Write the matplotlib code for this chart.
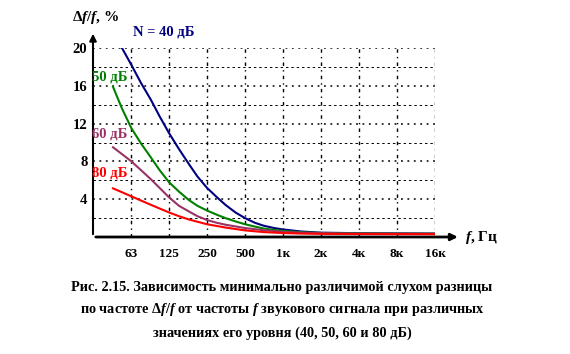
import numpy as np
import matplotlib
matplotlib.use("Agg")
import matplotlib.pyplot as plt

plt.rcParams['font.family'] = ['Liberation Serif', 'DejaVu Serif']
plt.rcParams['font.weight'] = 'bold'
plt.rcParams['mathtext.fontset'] = 'custom'
plt.rcParams['mathtext.rm'] = 'Liberation Serif:bold'
plt.rcParams['mathtext.it'] = 'Liberation Serif:italic:bold'
plt.rcParams['mathtext.bf'] = 'Liberation Serif:bold'

# frequency, Hz -> delta f / f, %
f40 = [53, 63, 75, 90, 105, 125, 150, 180, 210, 250, 300, 350, 420, 500, 600, 700, 850, 1000,
       1400, 2000, 4000, 8000, 16000]
d40 = [20.0, 18.2, 16.3, 14.5, 12.8, 11.0, 9.3, 7.7, 6.4, 5.2, 4.2, 3.4, 2.6, 2.0, 1.5, 1.2, 0.95, 0.8,
       0.58, 0.46, 0.4, 0.38, 0.36]
f50 = [45, 53, 63, 75, 90, 105, 125, 150, 180, 210, 250, 300, 350, 420, 500, 600, 700, 850, 1000,
       1400, 2000, 4000, 8000, 16000]
d50 = [15.9, 13.6, 11.5, 9.9, 8.4, 7.1, 5.8, 4.8, 3.9, 3.3, 2.8, 2.35, 2.0, 1.65, 1.35, 1.1, 0.9, 0.75, 0.65,
       0.5, 0.42, 0.38, 0.36, 0.35]
f60 = [45, 63, 90, 125, 150, 180, 210, 250, 300, 350, 500, 700, 1000, 1400, 2000, 4000, 8000, 16000]
d60 = [9.5, 8.0, 6.1, 4.2, 3.3, 2.7, 2.2, 1.8, 1.5, 1.3, 0.95, 0.72, 0.55, 0.45, 0.4, 0.36, 0.35, 0.34]
f80 = [45, 63, 90, 125, 150, 180, 250, 350, 500, 700, 1000, 1400, 2000, 4000, 8000, 16000]
d80 = [5.15, 4.3, 3.4, 2.6, 2.2, 1.85, 1.35, 1.0, 0.7, 0.52, 0.42, 0.36, 0.33, 0.31, 0.3, 0.3]

xticks = [62.5, 125, 250, 500, 1000, 2000, 4000, 8000, 16000]
xlabels = ['63', '125', '250', '500', '1к', '2к', '4к', '8к', '16к']
yticks = [4, 8, 12, 16, 20]

fig = plt.figure(figsize=(5.7, 3.54), dpi=100)
ax = fig.add_axes([93/570, 1-237/354, 342/570, 189/354])
ax.set_xscale('log', base=2)
ax.set_xlim(31.25, 16000)
ax.set_ylim(0, 20)

# grid
for y in range(2, 21, 2):
    if y % 4 == 0:
        ax.axhline(y, color='k', lw=1.1, ls=(0, (1.2, 3)), zorder=1)
    else:
        ax.axhline(y, color='k', lw=0.7, ls=(0, (2.5, 3)), zorder=1)
for x in xticks:
    ax.axvline(x, color='k', lw=1, ls=(0, (2.5, 3, 1, 3)), zorder=1)

ax.plot(f40, d40, color='#000080', lw=1.5, zorder=3)
ax.plot(f50, d50, color='#008000', lw=1.5, zorder=3)
ax.plot(f60, d60, color='#993366', lw=1.5, zorder=3)
ax.plot(f80, d80, color='#ff0000', lw=1.5, zorder=4)

for s in ax.spines.values():
    s.set_visible(False)
ax.set_xticks(xticks)
ax.set_xticklabels(xlabels, fontsize=9.5, fontweight='bold')
ax.set_yticks(yticks)
ax.set_yticklabels([str(v) for v in yticks], fontsize=10.5, fontweight='bold')
ax.xaxis.set_minor_locator(plt.NullLocator())
ax.tick_params(length=0, pad=4)
ax.tick_params(axis='x', pad=8)

# axes with arrows
ax.annotate('', xy=(1.075, 0), xytext=(0, 0), xycoords='axes fraction',
            arrowprops=dict(arrowstyle='-|>', color='k', lw=2, mutation_scale=10),
            annotation_clip=False)
ax.annotate('', xy=(0, 1.09), xytext=(0, 0), xycoords='axes fraction',
            arrowprops=dict(arrowstyle='-|>', color='k', lw=1.5, mutation_scale=10),
            annotation_clip=False)

fig.text(72/570, 1-17/354, r'Δ$\mathit{f/f}$, %', fontsize=11, va='center', ha='left')
fig.text(465/570, 1-237/354, r'$\mathit{f}$, Гц', fontsize=11, va='center', ha='left')

fig.text(133/570, 1-32/354, 'N = 40 дБ', fontsize=10.5, color='#000080', va='center')
fig.text(92/570, 1-77/354, '50 дБ', fontsize=10.5, color='#008000', va='center')
fig.text(92/570, 1-134/354, '60 дБ', fontsize=10.5, color='#993366', va='center')
fig.text(92/570, 1-173/354, '80 дБ', fontsize=10.5, color='#ff0000', va='center')

cap = ['Рис. 2.15. Зависимость минимально различимой слухом разницы',
       r'по частоте Δ$\mathit{f/f}$ от частоты $\mathit{f}$ звукового сигнала при различных',
       'значениях его уровня (40, 50, 60 и 80 дБ)']
for i, line in enumerate(cap):
    fig.text(282/570, 1-(287+23*i)/354, line, fontsize=10.3, ha='center', va='center')

fig.savefig('out.png', dpi=100)
